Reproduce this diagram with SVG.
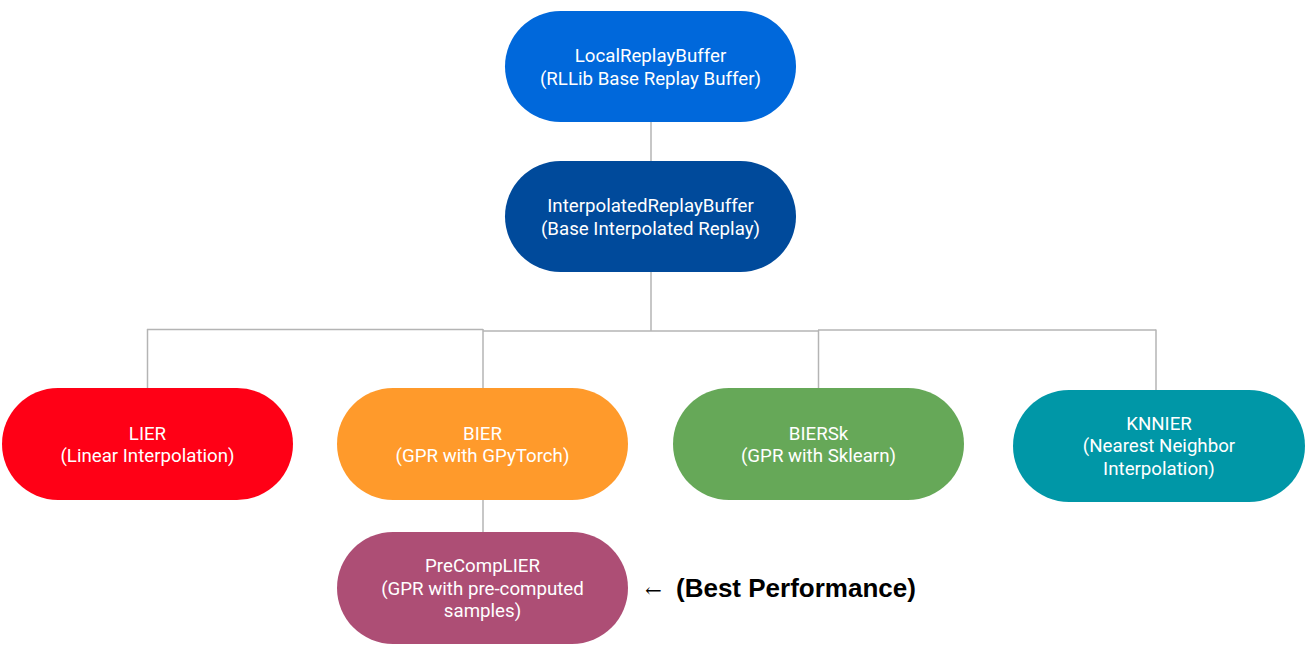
<svg xmlns="http://www.w3.org/2000/svg" width="1309" height="650" viewBox="0 0 1309 650">
<style>
.n text{font-family:Roboto,"Liberation Sans",sans-serif;font-size:18.7px;fill:#ffffff;text-anchor:middle}
.c line{stroke:#b4b4b4;stroke-width:1.5}
.note{font-family:"Liberation Sans",Arial,sans-serif;font-size:26px;font-weight:bold;fill:#000}
</style>
<rect width="1309" height="650" fill="#ffffff"/>
<g class="c" id="connectors">
<line x1="651" y1="122" x2="651" y2="161"/>
<line x1="651" y1="272" x2="651" y2="331"/>
<line x1="147" y1="329.5" x2="483" y2="329.5"/>
<line x1="483" y1="331" x2="818" y2="331"/>
<line x1="818" y1="330" x2="1156" y2="330"/>
<line x1="147.5" y1="329" x2="147.5" y2="388"/>
<line x1="483" y1="329" x2="483" y2="388"/>
<line x1="818.5" y1="330" x2="818.5" y2="388"/>
<line x1="1156" y1="329.5" x2="1156" y2="390"/>
<line x1="483" y1="500" x2="483" y2="532"/>
</g>
<g class="n" id="LocalReplayBuffer">
<rect x="505" y="11" width="291" height="111" rx="55.5" fill="#0068DB"/>
<text x="650.5" y="62">LocalReplayBuffer</text>
<text x="650.5" y="84.5">(RLLib Base Replay Buffer)</text>
</g>
<g class="n" id="InterpolatedReplayBuffer">
<rect x="505" y="161" width="291" height="111" rx="55.5" fill="#004A9B"/>
<text x="650.5" y="212">InterpolatedReplayBuffer</text>
<text x="650.5" y="234.5">(Base Interpolated Replay)</text>
</g>
<g class="n" id="LIER">
<rect x="2" y="388" width="291" height="112" rx="56" fill="#FF0016"/>
<text x="147.5" y="439.5">LIER</text>
<text x="147.5" y="462">(Linear Interpolation)</text>
</g>
<g class="n" id="BIER">
<rect x="337" y="388" width="291" height="112" rx="56" fill="#FF9A2B"/>
<text x="482.5" y="439.5">BIER</text>
<text x="482.5" y="462">(GPR with GPyTorch)</text>
</g>
<g class="n" id="BIERSk">
<rect x="673" y="388" width="291" height="112" rx="56" fill="#66A858"/>
<text x="818.5" y="439.5">BIERSk</text>
<text x="818.5" y="462">(GPR with Sklearn)</text>
</g>
<g class="n" id="KNNIER">
<rect x="1013" y="390" width="292" height="112" rx="56" fill="#0097A7"/>
<text x="1159" y="429.5">KNNIER</text>
<text x="1159" y="452">(Nearest Neighbor</text>
<text x="1159" y="474.5">Interpolation)</text>
</g>
<g class="n" id="PreCompLIER">
<rect x="337" y="532" width="291" height="112" rx="56" fill="#AD4E75"/>
<text x="482.5" y="572">PreCompLIER</text>
<text x="482.5" y="594.5">(GPR with pre-computed</text>
<text x="482.5" y="617">samples)</text>
</g>
<text class="note" x="645" y="597"><tspan font-weight="normal" font-family="'DejaVu Serif',serif" font-size="20">←</tspan><tspan x="676">(Best Performance)</tspan></text>
</svg>
